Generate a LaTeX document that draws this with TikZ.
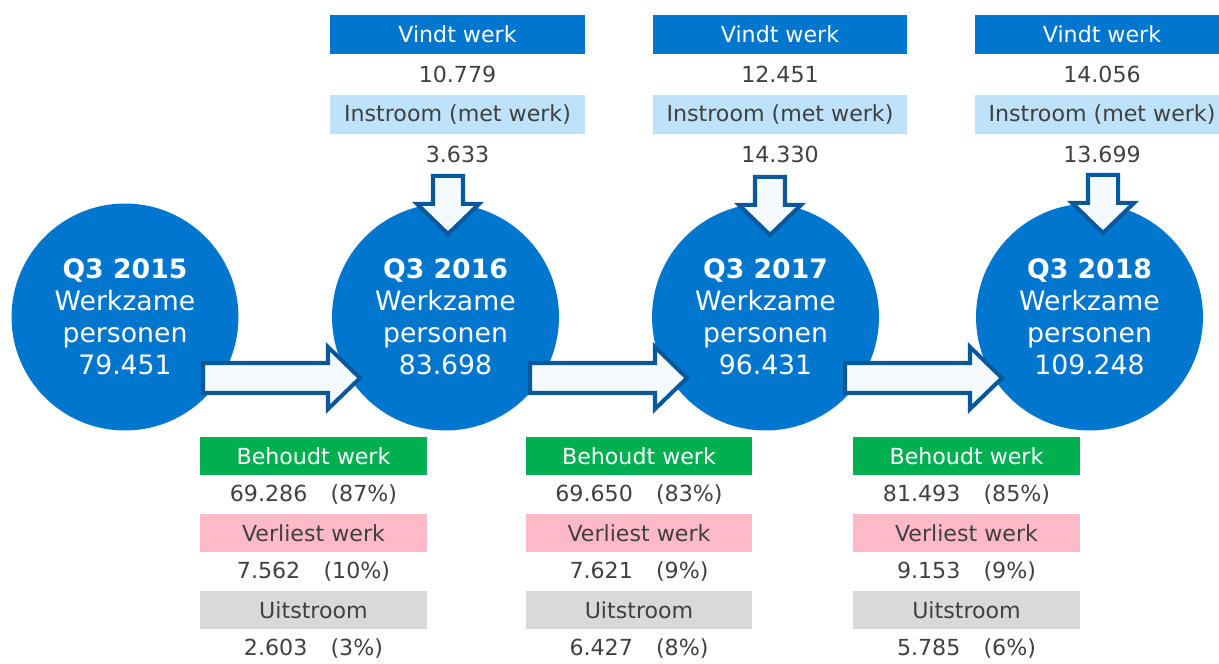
\documentclass[tikz,border=0pt]{standalone}
\usepackage{fontspec}
\setmainfont{DejaVu Sans}
\usetikzlibrary{positioning, calc}

\definecolor{circblue}{RGB}{0,118,206}
\definecolor{lightblue}{RGB}{189,226,250}
\definecolor{keepgreen}{RGB}{0,176,80}
\definecolor{losepink}{RGB}{255,185,200}
\definecolor{outgray}{RGB}{217,217,217}
\definecolor{txtgray}{RGB}{64,64,64}
\definecolor{arrline}{RGB}{10,88,156}
\definecolor{arrfill}{RGB}{245,250,254}

\tikzset{
  yearcirc/.style={circle, fill=circblue, minimum size=4.54cm, inner sep=0pt,
    text=white, align=center, font=\fontsize{15.2}{18.2}\selectfont},
  topbox/.style={minimum width=5.1cm, minimum height=0.78cm, inner sep=0pt, outer sep=0pt,
    font=\fontsize{12.6}{14}\selectfont},
  toprow/.style={minimum width=5.1cm, minimum height=0.82cm, inner sep=0pt, outer sep=0pt,
    text=txtgray, font=\fontsize{12.6}{14}\selectfont},
  botbox/.style={minimum width=4.54cm, minimum height=0.76cm, inner sep=0pt, outer sep=0pt,
    font=\fontsize{12.6}{14}\selectfont},
  botrow/.style={minimum width=4.54cm, minimum height=0.78cm, inner sep=0pt, outer sep=0pt,
    text=txtgray, font=\fontsize{12.6}{14}\selectfont},
  vindt/.style={topbox, fill=circblue, text=white},
  instr/.style={topbox, fill=lightblue, text=txtgray},
  behoudt/.style={botbox, fill=keepgreen, text=white},
  verliest/.style={botbox, fill=losepink, text=txtgray},
  uitstr/.style={botbox, fill=outgray, text=txtgray},
  blockarr/.style={draw=arrline, fill=arrfill, line width=2.3pt, line join=miter},
  rarrow/.pic={\draw[blockarr] (0,-15) -- (125,-15) -- (125,-31) -- (157,0) -- (125,31) -- (125,15) -- (0,15) -- cycle;},
  darrow/.pic={\draw[blockarr] (-15,0) -- (15,0) -- (15,28) -- (31,28) -- (0,58) -- (-31,28) -- (-15,28) -- cycle;}
}

\begin{document}
\begin{tikzpicture}[x=0.02cm, y=-0.02cm]
  \useasboundingbox (0,0) rectangle (1219,663);

  % circles
  \node[yearcirc] (q15) at (125,317) {\textbf{Q3 2015}\\Werkzame\\personen\\79.451};
  \node[yearcirc] (q16) at (445.5,317) {\textbf{Q3 2016}\\Werkzame\\personen\\83.698};
  \node[yearcirc] (q17) at (765.5,317) {\textbf{Q3 2017}\\Werkzame\\personen\\96.431};
  \node[yearcirc] (q18) at (1089.5,317) {\textbf{Q3 2018}\\Werkzame\\personen\\109.248};

  % instroom columns
  \node[vindt] (vw16) at (457.5,34.5) {Vindt werk};
  \node[toprow, below=0pt of vw16] (vn16) {10.779};
  \node[instr, below=0pt of vn16] (iw16) {Instroom (met werk)};
  \node[toprow, below=0pt of iw16] (in16) {3.633};

  \node[vindt] (vw17) at (780,34.5) {Vindt werk};
  \node[toprow, below=0pt of vw17] (vn17) {12.451};
  \node[instr, below=0pt of vn17] (iw17) {Instroom (met werk)};
  \node[toprow, below=0pt of iw17] (in17) {14.330};

  \node[vindt] (vw18) at (1102,34.5) {Vindt werk};
  \node[toprow, below=0pt of vw18] (vn18) {14.056};
  \node[instr, below=0pt of vn18] (iw18) {Instroom (met werk)};
  \node[toprow, below=0pt of iw18] (in18) {13.699};

  % uitstroom columns
  \node[behoudt] (bw15) at (313.5,456) {Behoudt werk};
  \node[botrow, below=0pt of bw15] (bn15) {69.286\hspace{1.05em}(87\%)};
  \node[verliest, below=0pt of bn15] (lw15) {Verliest werk};
  \node[botrow, below=0pt of lw15] (ln15) {7.562\hspace{1.05em}(10\%)};
  \node[uitstr, below=0pt of ln15] (uw15) {Uitstroom};
  \node[botrow, below=0pt of uw15] (un15) {2.603\hspace{1.05em}(3\%)};

  \node[behoudt] (bw16) at (639,456) {Behoudt werk};
  \node[botrow, below=0pt of bw16] (bn16) {69.650\hspace{1.05em}(83\%)};
  \node[verliest, below=0pt of bn16] (lw16) {Verliest werk};
  \node[botrow, below=0pt of lw16] (ln16) {7.621\hspace{1.05em}(9\%)};
  \node[uitstr, below=0pt of ln16] (uw16) {Uitstroom};
  \node[botrow, below=0pt of uw16] (un16) {6.427\hspace{1.05em}(8\%)};

  \node[behoudt] (bw17) at (966.5,456) {Behoudt werk};
  \node[botrow, below=0pt of bw17] (bn17) {81.493\hspace{1.05em}(85\%)};
  \node[verliest, below=0pt of bn17] (lw17) {Verliest werk};
  \node[botrow, below=0pt of lw17] (ln17) {9.153\hspace{1.05em}(9\%)};
  \node[uitstr, below=0pt of ln17] (uw17) {Uitstroom};
  \node[botrow, below=0pt of uw17] (un17) {5.785\hspace{1.05em}(6\%)};

  % block arrows
  \pic at ($(q15.center)+(78,61)$) {rarrow};
  \pic at ($(q16.center)+(84.5,61)$) {rarrow};
  \pic at ($(q17.center)+(79.5,61)$) {rarrow};
  \pic at ($(in16.south)+(-9.5,1)$) {darrow};
  \pic at ($(in17.south)+(-10,2)$) {darrow};
  \pic at ($(in18.south)+(1,0)$) {darrow};
\end{tikzpicture}
\end{document}
